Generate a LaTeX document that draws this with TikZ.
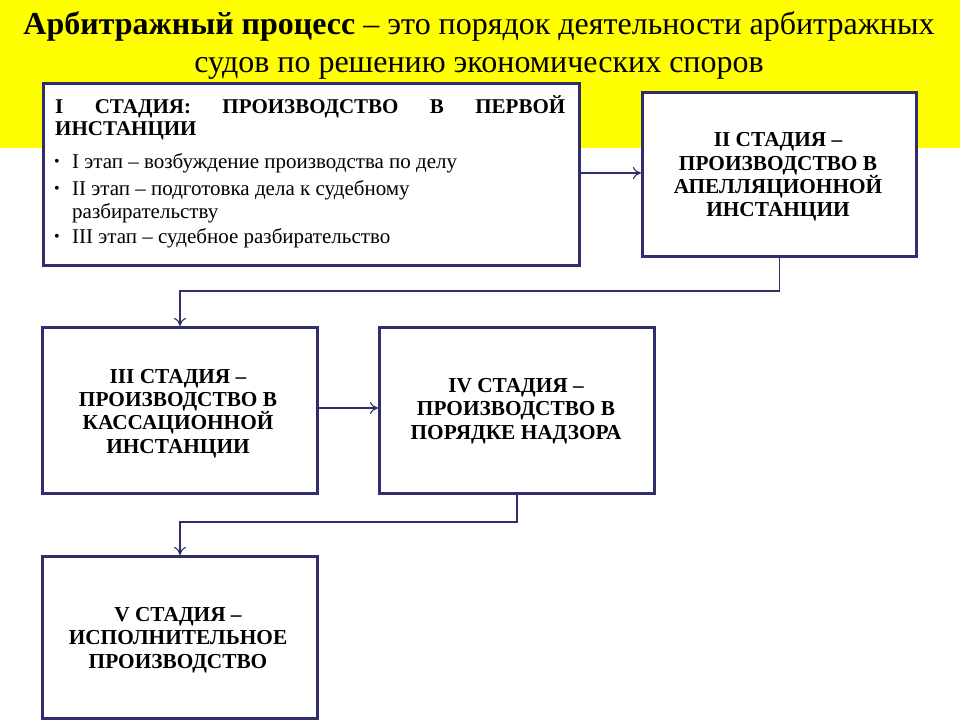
\documentclass[tikz,border=0pt]{standalone}
\usepackage{fontspec}
\setmainfont{Liberation Serif}
\usetikzlibrary{arrows.meta}
\definecolor{navy}{HTML}{2E2E6E}
\definecolor{band}{HTML}{FFFF00}
\tikzset{
  stagebox/.style={draw=navy, line width=3pt, fill=white, inner sep=0pt, anchor=north west},
  conn/.style={draw=navy, line width=1.1pt, -{To[length=8pt,width=12pt]}},
  stagetext/.style={font=\fontsize{21.3}{23.3}\selectfont\bfseries, align=center},
  titleline/.style={font=\fontsize{32}{38}\selectfont, anchor=base, inner sep=0pt},
  bullettext/.style={font=\fontsize{21}{23}\selectfont, anchor=base west, inner sep=0pt},
  bulletdot/.style={font=\fontsize{16}{16}\selectfont, anchor=base west, inner sep=0pt},
  headtext/.style={font=\fontsize{21}{23}\selectfont\bfseries, anchor=base west, inner sep=0pt},
}
\begin{document}
\begin{tikzpicture}[x=1pt,y=-1pt]
\useasboundingbox (0,0) rectangle (960,720);
\fill[white] (0,0) rectangle (960,720);
\fill[band] (0,0) rectangle (960,148);
\node[titleline] (title1) at (479,34) {\textbf{Арбитражный процесс} – это порядок деятельности арбитражных};
\node[titleline] (title2) at (479,72) {судов по решению экономических споров};
% boxes
\node[stagebox, minimum width=536pt, minimum height=182pt] (b1) at (42,82) {};
\node[stagebox, minimum width=274pt, minimum height=164pt] (b2) at (641,91) {};
\node[stagebox, minimum width=275pt, minimum height=166pt] (b3) at (41,326) {};
\node[stagebox, minimum width=275pt, minimum height=166pt] (b4) at (378,326) {};
\node[stagebox, minimum width=275pt, minimum height=162pt] (b5) at (41,555) {};
% box 1 text
\node[headtext] (h1a) at (55,113) {\makebox[510pt][s]{I СТАДИЯ: ПРОИЗВОДСТВО В ПЕРВОЙ}};
\node[headtext] (h1b) at (55,135) {ИНСТАНЦИИ};
\node[bulletdot] (d1) at (54,166) {•};
\node[bullettext] (l1) at (72,168) {I этап – возбуждение производства по делу};
\node[bulletdot] (d2) at (54,193) {•};
\node[bullettext] (l2) at (72,195) {II этап – подготовка дела к судебному};
\node[bullettext] (l2b) at (72,218) {разбирательству};
\node[bulletdot] (d3) at (54,241) {•};
\node[bullettext] (l3) at (72,243) {III этап – судебное разбирательство};
% other texts
\node[stagetext] (t2) at (778,177) {II СТАДИЯ –\\ПРОИЗВОДСТВО В\\АПЕЛЛЯЦИОННОЙ\\ИНСТАНЦИИ};
\node[stagetext] (t3) at (178,413.5) {III СТАДИЯ –\\ПРОИЗВОДСТВО В\\КАССАЦИОННОЙ\\ИНСТАНЦИИ};
\node[stagetext] (t4) at (516,411) {IV СТАДИЯ –\\ПРОИЗВОДСТВО В\\ПОРЯДКЕ НАДЗОРА};
\node[stagetext] (t5) at (178,640) {V СТАДИЯ –\\ИСПОЛНИТЕЛЬНОЕ\\ПРОИЗВОДСТВО};
% connectors
\draw[conn] (b1.east |- 0,173) -- (b2.west |- 0,173);
\draw[conn] (b2.south) |- (b3.north |- 0,291) -- (b3.north);
\draw[conn] (b3.east |- 0,408) -- (b4.west |- 0,408);
\draw[conn] (b4.south) |- (b5.north |- 0,522) -- (b5.north);
\end{tikzpicture}
\end{document}
